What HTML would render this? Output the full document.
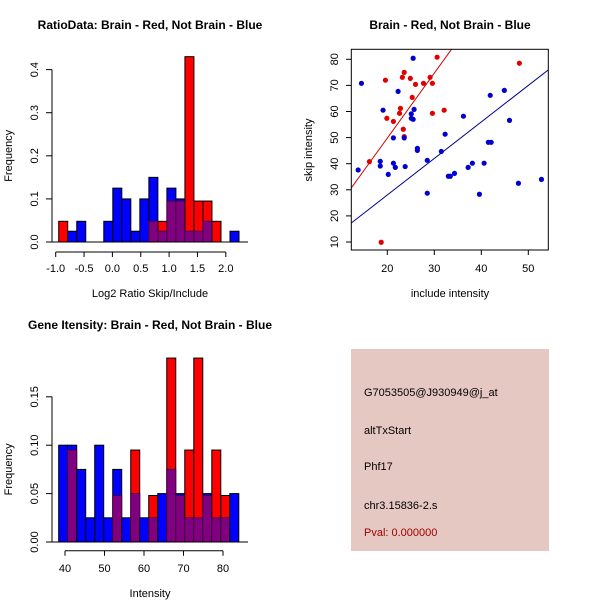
<!DOCTYPE html>
<html><head><meta charset="utf-8"><style>
body{margin:0;background:#fff}
svg text{font-family:"Liberation Sans",sans-serif}
</style></head><body>
<svg id="c" width="600" height="600" xmlns="http://www.w3.org/2000/svg">
<rect x="0" y="0" width="600" height="600" fill="#fff"/>
</svg>
<script>
// Histogram 1 data (log2 ratio)
const h1Start = -0.947, h1Width = 0.159;
const h1Blue = [0,0.025,0.048,0,0,0.048,0.125,0.1,0.025,0.1,0.15,0.025,0.125,0.1,0.025,0.025,0.048,0,0,0.025];
const h1Red  = [0.048,0,0,0,0,0,0,0,0,0,0.048,0.048,0.095,0.095,0.43,0.095,0.095,0.048,0,0];
const h1XTicks = [-1.0,-0.5,0.0,0.5,1.0,1.5,2.0];
const h1YTicks = [0.0,0.1,0.2,0.3,0.4];
// Histogram 2 data (intensity)
const h2Start = 38.4, h2Width = 2.28;
const h2Blue = [0.1,0.1,0.075,0.025,0.1,0.025,0.075,0.025,0.05,0.025,0.025,0.05,0.075,0.05,0.025,0.025,0.05,0.025,0.025,0.05];
const h2Red  = [0,0.095,0,0,0,0,0.048,0,0.095,0,0.048,0,0.19,0.048,0.095,0.19,0.048,0.095,0.048,0];
const h2XTicks = [40,50,60,70,80];
const h2YTicks = ["0.00","0.05","0.10","0.15"];
// Scatter data
const redX = [16.2,18.7,19.6,19.9,21.3,22.6,22.8,23.2,23.6,23.4,23.6,24.9,25.3,26.0,27.7,29.1,29.6,29.6,30.6,32.1,48.1];
const redY = [40.8,9.9,72,57.4,56.2,59.3,61.2,73.1,75,53.2,50.4,72.7,65.4,70.4,70.8,73.1,70.8,59.3,80.8,60.5,78.5];
const blueX = [13.8,14.5,19.1,18.5,18.5,20.2,21.3,21.3,21.7,22.3,23.6,23.8,25.1,25.1,25.5,25.7,25.5,26.4,26.4,28.5,28.5,31.5,32.3,33.0,33.4,34.3,36.2,37.2,38.1,39.6,40.6,41.5,41.9,42.1,44.9,46.0,47.9,52.8];
const blueY = [37.6,70.8,60.5,40.9,39.1,35.9,49.9,40.2,38.6,67.7,49.9,38.9,59.1,57.4,57.0,60.8,80.4,45.9,45.1,41.3,28.7,44.7,51.3,35.2,35.2,36.3,58.2,38.6,40.2,28.3,40.2,48.2,66.2,48.2,68.1,56.6,32.5,34.0];
const fitSlopes = [2.49,1.40];
const scXTicks = [20,30,40,50];
const scYTicks = [10,20,30,40,50,60,70,80];

const NS="http://www.w3.org/2000/svg", svg=document.getElementById('c');
function mk(tag,attrs,parent){const e=document.createElementNS(NS,tag);for(const k in attrs)e.setAttribute(k,attrs[k]);(parent||svg).appendChild(e);return e;}
function txt(s,x,y,opt,name){const t=mk('text',Object.assign({x:x,y:y,'font-size':11,'text-anchor':'middle',fill:'#000'},opt||{}));t.textContent=s;


return t;}

function hist(g,start,w,blue,red,xs,ys,xt,yt,xlab,title,ty,xaxisY,xtickLabY,xlabY,name){
  const grp=mk('g',{});
  
  
  for(let i=0;i<blue.length;i++){
    const x0=xs(start+i*w), x1=xs(start+(i+1)*w);
    const b=blue[i], r=red[i], lo=Math.min(b,r), hi=Math.max(b,r);
    if(hi>0){
      const r1=mk('rect',{x:x0,y:ys(hi),width:x1-x0,height:ys(0)-ys(hi),fill:(r>=b?'#ff0000':'#0000ff'),stroke:'#000','stroke-width':1},grp);
      
      
    }
    if(lo>0){
      const r2=mk('rect',{x:x0,y:ys(lo),width:x1-x0,height:ys(0)-ys(lo),fill:'#800080',stroke:'#4a004a','stroke-width':1},grp);
      
      
    }
  }
  mk('line',{x1:52,x2:248,y1:ys(0),y2:ys(0),stroke:'#000'},grp);
  // y axis
  const yv=yt.map(Number);
  mk('line',{x1:52,x2:52,y1:ys(yv[0]),y2:ys(yv[yv.length-1]),stroke:'#000'},grp);
  yt.forEach(v=>{const y=ys(Number(v));mk('line',{x1:46,x2:52,y1:y,y2:y,stroke:'#000'},grp);
    txt(typeof v==='string'?v:v.toFixed(1),38,y,{transform:`rotate(-90 38 ${y})`},'y-tick-label');});
  // x axis
  mk('line',{x1:xs(xt[0]),x2:xs(xt[xt.length-1]),y1:xaxisY,y2:xaxisY,stroke:'#000'},grp);
  xt.forEach(v=>{const x=xs(v);mk('line',{x1:x,x2:x,y1:xaxisY,y2:xaxisY+5,stroke:'#000'},grp);
    txt(Number.isInteger(v)&&Math.abs(v)>5?String(v):v.toFixed(1),x,xtickLabY,{},'x-tick-label');});
  txt(xlab,150,xlabY,{},'x-axis-title');
  const mid=(ys(yv[0])+ys(yv[yv.length-1]))/2;
  txt('Frequency',12,mid,{transform:`rotate(-90 12 ${mid})`},'y-axis-title');
  txt(title,150,ty,{'font-weight':'bold','font-size':12},'chart-title');
}
// hist 1
hist(null,h1Start,h1Width,h1Blue,h1Red,
  v=>55.7+(v+1)*56.7, v=>242-v*431,
  h1XTicks,h1YTicks,'Log2 Ratio Skip/Include','RatioData: Brain - Red, Not Brain - Blue',29,252,272,297,'ratio-histogram');
// hist 2
hist(null,h2Start,h2Width,h2Blue,h2Red,
  v=>65+(v-40)*3.95, v=>542-v*968,
  h2XTicks,h2YTicks,'Intensity','Gene Itensity: Brain - Red, Not Brain - Blue',329,550.7,572,597,'intensity-histogram');

// scatter
(function(){
  const g=mk('g',{});
  
  
  const xs=v=>387.3+(v-20)*4.7, ys=v=>242-(v-10)*2.61;
  const xmin=12.34,xmax=54.26,ymin=6.93,ymax=83.8;
  const cp=mk('clipPath',{id:'scclip'},g);mk('rect',{x:351.3,y:49.3,width:197,height:200.7},cp);
  fitSlopes.forEach((s,i)=>{
    const l=mk('line',{x1:xs(xmin),y1:ys(s*xmin),x2:xs(xmax),y2:ys(s*xmax),stroke:i==0?'#d00000':'#00008b','stroke-width':1,'clip-path':'url(#scclip)'},g);
    
    
  });
  redX.forEach((x,i)=>{const c=mk('circle',{cx:xs(x),cy:ys(redY[i]),r:2.6,fill:'#e00000'},g);
    
    });
  blueX.forEach((x,i)=>{const c=mk('circle',{cx:xs(x),cy:ys(blueY[i]),r:2.6,fill:'#0000d0'},g);
    
    });
  mk('rect',{x:351.3,y:49.3,width:197,height:200.7,fill:'none',stroke:'#000'},g);
  scXTicks.forEach(v=>{const x=xs(v);mk('line',{x1:x,x2:x,y1:250,y2:255,stroke:'#000'},g);txt(String(v),x,272,{},'x-tick-label');});
  scYTicks.forEach(v=>{const y=ys(v);mk('line',{x1:346,x2:351.3,y1:y,y2:y,stroke:'#000'},g);txt(String(v),338,y,{transform:`rotate(-90 338 ${y})`},'y-tick-label');});
  txt('include intensity',450,297,{},'x-axis-title');
  txt('skip intensity',312,150,{transform:'rotate(-90 312 150)'},'y-axis-title');
  txt('Brain - Red, Not Brain - Blue',450,29,{'font-weight':'bold','font-size':12},'chart-title');
})();

// info panel
(function(){
  const r=mk('rect',{x:351,y:349,width:198,height:202,fill:'#e6c8c2'});
  
  
  const lines=[['G7053505@J930949@j_at',396,'probe-id'],['altTxStart',434,'event-type'],['Phf17',470,'gene-name'],['chr3.15836-2.s',509,'locus'],['Pval: 0.000000',536,'p-value']];
  lines.forEach((l,i)=>txt(l[0],364,l[1],{'text-anchor':'start',fill:i==4?'#a00000':'#000'},l[2]));
})();
</script>
</body></html>
